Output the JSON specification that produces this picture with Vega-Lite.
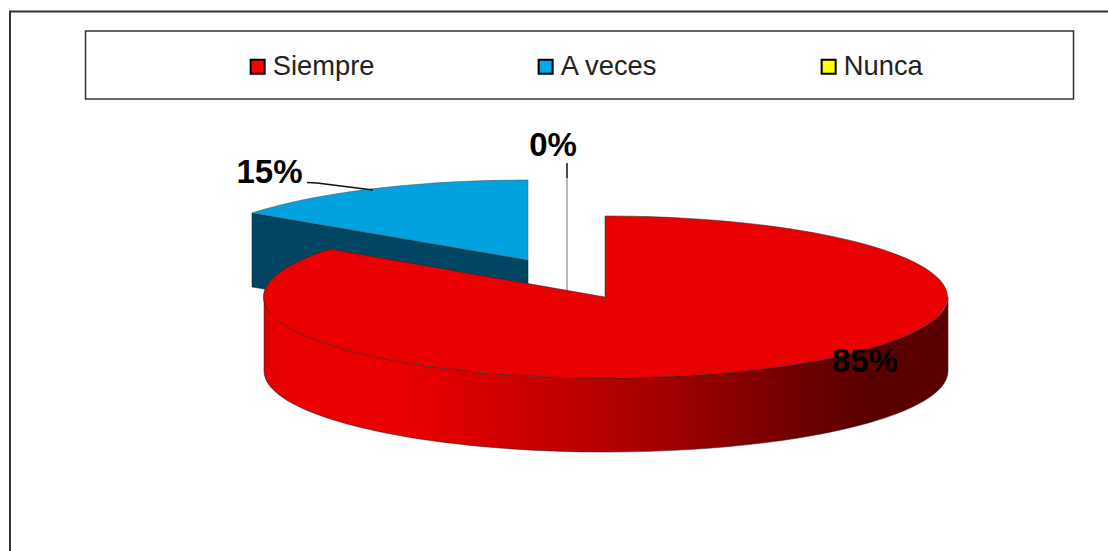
{
  "$schema": "https://vega.github.io/schema/vega-lite/v6.json",
  "width": 1108,
  "height": 551,
  "autosize": "none",
  "padding": 0,
  "background": "white",
  "config": {"view": {"stroke": null}, "font": "Liberation Sans"},
  "data": {"values": [
    {"respuesta": "Siempre", "porcentaje": 0.85},
    {"respuesta": "A veces", "porcentaje": 0.15},
    {"respuesta": "Nunca", "porcentaje": 0}
  ]},
  "layer": [
    {
      "data": {"values": [{"marco": "exterior"}]},
      "mark": {"type": "point", "size": 4, "filled": false, "opacity": 1, "stroke": "#333333", "strokeWidth": 2, "shape": "M -544 280 L -544 -264 L 554 -264"},
      "encoding": {}
    },
    {
      "data": {"values": [{"marco": "leyenda"}]},
      "mark": {"type": "point", "size": 4, "filled": false, "opacity": 1, "stroke": "#333333", "strokeWidth": 1.5, "shape": "M -468.5 -244.5 L 519.5 -244.5 L 519.5 -176.5 L -468.5 -176.5 Z"},
      "encoding": {}
    },
    {
      "mark": {"type": "point", "size": 0, "filled": true, "opacity": 1, "shape": "square"},
      "encoding": {
        "color": {
          "field": "respuesta",
          "type": "nominal",
          "scale": {"domain": ["Siempre", "A veces", "Nunca"], "range": ["#ff0000", "#00a8ec", "#ffff00"]},
          "legend": {
            "title": null,
            "orient": "none",
            "legendX": 244,
            "legendY": 53,
            "direction": "horizontal",
            "columns": 3,
            "columnPadding": 157,
            "gridAlign": "each",
            "symbolType": "square",
            "symbolSize": 196,
            "symbolStrokeColor": "#000000",
            "symbolStrokeWidth": 2,
            "symbolOpacity": 1,
            "labelFont": "Liberation Sans",
            "labelFontSize": 27.3,
            "labelColor": "#222222",
            "labelOffset": 1.5,
            "labelLimit": 300,
            "padding": 0
          }
        }
      }
    },
    {
      "transform": [{"filter": "datum.respuesta === 'Nunca'"}],
      "mark": {"type": "point", "size": 4, "filled": false, "opacity": 1, "stroke": "#8a8a8a", "strokeWidth": 1.2, "shape": "M 13 -97.5 L 13 16"},
      "encoding": {}
    },
    {
      "transform": [{"filter": "datum.respuesta === 'Nunca'"}],
      "mark": {"type": "point", "size": 4, "filled": false, "opacity": 1, "stroke": "#111111", "strokeWidth": 1.5, "shape": "M 13 -112.5 L 13 -97.5"},
      "encoding": {}
    },
    {
      "transform": [{"filter": "datum.respuesta === 'A veces'"}],
      "mark": {"type": "point", "size": 4, "filled": true, "opacity": 1, "fill": "#004663", "stroke": "#002233", "strokeWidth": 0.5, "shape": "M -302 -62.5 L -26 -15.5 L -26 58.5 L -302 11.5 Z"},
      "encoding": {}
    },
    {
      "transform": [{"filter": "datum.respuesta === 'A veces'"}],
      "mark": {"type": "point", "size": 4, "filled": true, "opacity": 1, "fill": "#00a2e0", "stroke": "#555555", "strokeWidth": 0.5, "shape": "M -26 -95.5 A 342 81 0 0 0 -302 -62.5 L -26 -15.5 Z"},
      "encoding": {}
    },
    {
      "transform": [{"filter": "datum.respuesta === 'A veces'"}],
      "mark": {"type": "point", "size": 4, "filled": false, "opacity": 1, "stroke": "#111111", "strokeWidth": 1.5, "shape": "M -247 -93 L -237 -92.5 L -181 -85.5"},
      "encoding": {}
    },
    {
      "transform": [{"filter": "datum.respuesta === 'Siempre'"}],
      "mark": {
        "type": "point", "size": 4, "filled": true, "opacity": 1, "stroke": "#222222", "strokeWidth": 0.5,
        "fill": {
          "gradient": "linear", "x1": 0, "y1": 0, "x2": 1, "y2": 0,
          "stops": [
            {"offset": 0, "color": "#e00000"},
            {"offset": 0.03, "color": "#ea0000"},
            {"offset": 0.2, "color": "#ea0000"},
            {"offset": 0.4, "color": "#c80000"},
            {"offset": 0.6, "color": "#a00000"},
            {"offset": 0.78, "color": "#700000"},
            {"offset": 0.88, "color": "#5a0000"},
            {"offset": 1, "color": "#5a0000"}
          ]
        },
        "shape": "M 394 21.5 A 342 81 0 0 1 -290 21.5 L -290 95.5 A 342 81 0 0 0 394 95.5 Z"
      },
      "encoding": {}
    },
    {
      "transform": [{"filter": "datum.respuesta === 'Siempre'"}],
      "mark": {"type": "point", "size": 4, "filled": true, "opacity": 1, "fill": "#ea0000", "stroke": "#222222", "strokeWidth": 0.5, "shape": "M 51 -59.5 A 342 81 0 1 1 -224 -26.5 L 51 21.5 Z"},
      "encoding": {}
    },
    {
      "mark": {"type": "text", "font": "Liberation Sans", "fontWeight": "bold", "fontSize": 33, "color": "#000000"},
      "encoding": {
        "text": {"field": "porcentaje", "type": "quantitative", "format": ".0%"},
        "x": {"field": "porcentaje", "type": "quantitative", "axis": null, "scale": {"domain": [0, 0.15, 0.85], "range": [553, 269.5, 865], "zero": false, "nice": false}},
        "y": {"field": "porcentaje", "type": "quantitative", "axis": null, "scale": {"domain": [0, 0.15, 0.85], "range": [145.5, 173, 362], "zero": false, "nice": false}}
      }
    }
  ]
}
